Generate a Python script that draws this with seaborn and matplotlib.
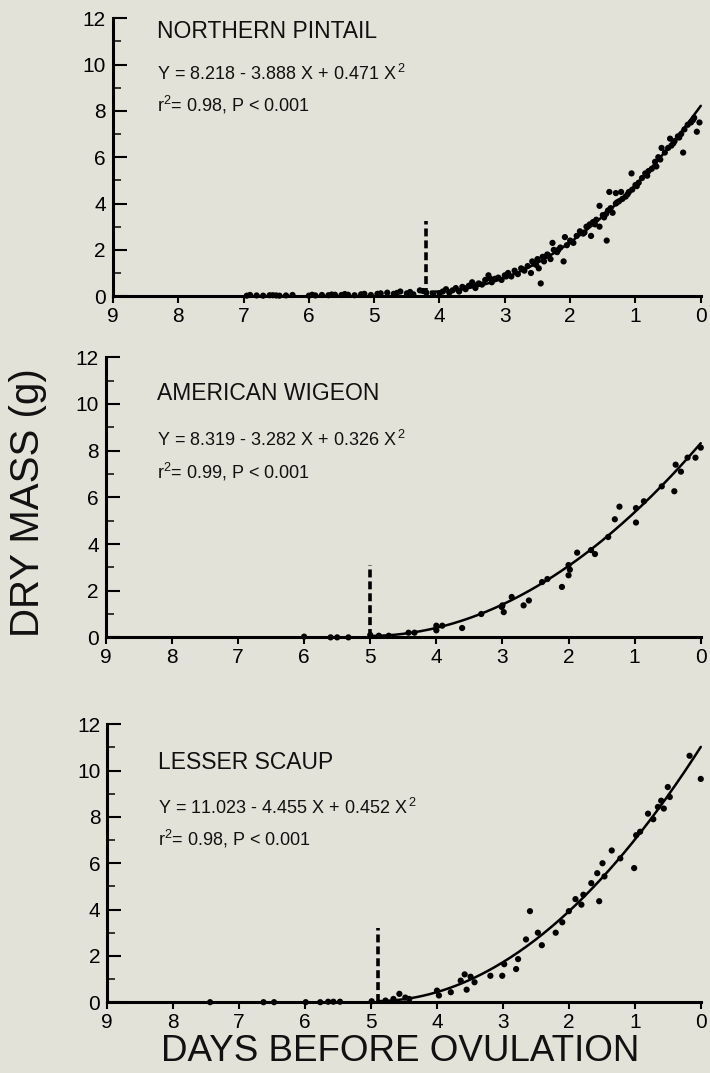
import numpy as np
import pandas as pd
import matplotlib
matplotlib.use("Agg")
import matplotlib.pyplot as plt
from matplotlib.ticker import MultipleLocator
import seaborn as sns

# ---------------- data ----------------
species = ["NORTHERN PINTAIL", "AMERICAN WIGEON", "LESSER SCAUP"]
equations = [
    r"Y = 8.218 - 3.888 X + 0.471 X$^{\,2}$",
    r"Y = 8.319 - 3.282 X + 0.326 X$^{\,2}$",
    r"Y = 11.023 - 4.455 X + 0.452 X$^{\,2}$",
]
stats_text = [
    r"r$^{2}$= 0.98, P < 0.001",
    r"r$^{2}$= 0.99, P < 0.001",
    r"r$^{2}$= 0.98, P < 0.001",
]
coef_pintail = [8.218, -3.888, 0.471]
coef_wigeon = [8.319, -3.282, 0.326]
coef_scaup = [11.023, -4.455, 0.452]
fit_start = [4.13, 5.0, 4.9]      # x where fitted curve begins
dash_x = [4.2, 5.0, 4.9]          # dashed marker positions
dash_top = [3.25, 3.1, 3.2]

pintail_x = [6.95, 6.8, 6.7, 6.6, 6.5, 6.45, 6.35, 6.0, 5.9, 5.8, 5.7, 5.6, 5.5, 5.4, 5.3,
             5.2, 5.05, 4.95, 4.8, 4.7, 4.6, 4.5, 4.4, 4.3, 4.2,
             4.1, 4.0, 3.95, 3.9, 3.85, 3.8, 3.75, 3.7, 3.65, 3.6, 3.55, 3.5, 3.45, 3.4, 3.35,
             3.3, 3.25, 3.2, 3.15, 3.1, 3.05, 3.0, 2.95, 2.9, 2.85, 2.8, 2.75, 2.7, 2.65, 2.6,
             2.58, 2.55, 2.5, 2.48, 2.45, 2.42, 2.4, 2.35, 2.3, 2.27, 2.25, 2.2, 2.15, 2.1, 2.08,
             2.05, 2.0, 1.95, 1.9, 1.85, 1.8, 1.75, 1.7, 1.68, 1.65, 1.6, 1.55, 1.55, 1.5, 1.48,
             1.44, 1.42, 1.4, 1.38, 1.35, 1.3, 1.3, 1.25, 1.22, 1.2, 1.15, 1.1, 1.06, 1.05, 1.0,
             0.95, 0.9, 0.85, 0.8, 0.75, 0.7, 0.68, 0.65, 0.6, 0.55, 0.5, 0.47, 0.45, 0.4, 0.35,
             0.3, 0.27, 0.25, 0.2, 0.15, 0.1, 0.06, 0.02,
             3.62, 3.48, 3.22, 2.98, 2.72, 2.52, 2.33, 2.18, 1.98, 1.78, 1.62, 1.45, 1.28, 1.12,
             0.98, 0.82, 0.62, 0.42, 0.33, 0.12,
             6.9, 6.55, 6.25, 5.95, 5.65, 5.45, 5.15, 4.9, 4.65, 4.45, 4.25]
pintail_y = [0.02, 0.03, 0.02, 0.04, 0.03, 0.02, 0.03, 0.02, 0.03, 0.05, 0.04, 0.06, 0.05, 0.06, 0.04,
             0.08, 0.05, 0.10, 0.15, 0.10, 0.20, 0.12, 0.08, 0.25, 0.15,
             0.10, 0.12, 0.20, 0.30, 0.15, 0.25, 0.35, 0.20, 0.40, 0.30, 0.45, 0.60, 0.35, 0.55, 0.50,
             0.70, 0.90, 0.60, 0.75, 0.80, 0.70, 0.90, 1.00, 0.85, 1.10, 0.95, 1.20, 1.10, 1.30, 1.00,
             1.50, 1.40, 1.60, 1.20, 0.55, 1.70, 1.50, 1.80, 1.60, 2.30, 2.00, 1.90, 2.10, 1.50, 2.55,
             2.20, 2.40, 2.30, 2.60, 2.80, 2.70, 3.00, 3.10, 2.60, 3.20, 3.30, 3.90, 3.00, 3.50, 3.40,
             2.40, 3.70, 4.50, 3.80, 3.60, 4.45, 4.00, 4.10, 4.50, 4.20, 4.30, 4.50, 5.30, 4.60, 4.80,
             4.90, 5.10, 5.30, 5.40, 5.50, 5.80, 5.60, 6.00, 6.40, 6.20, 6.40, 6.80, 6.50, 6.70, 6.90,
             7.00, 6.20, 7.20, 7.40, 7.50, 7.70, 7.10, 7.50,
             0.35, 0.50, 0.75, 0.85, 1.15, 1.35, 1.75, 2.00, 2.35, 2.75, 3.10, 3.55, 4.05, 4.40,
             4.75, 5.20, 5.90, 6.60, 6.85, 7.60,
             0.05, 0.04, 0.05, 0.06, 0.07, 0.09, 0.10, 0.12, 0.14, 0.18, 0.22]

wigeon_x = [6.0, 5.6, 5.5, 5.33, 5.0, 4.87, 4.72, 4.42, 4.33, 4.0, 4.0, 3.91, 3.61, 3.32,
            3.0, 2.98, 3.01, 2.86, 2.68, 2.6, 2.4, 2.32, 2.1, 2.0, 2.0, 1.98, 1.87, 1.66, 1.6,
            1.4, 1.3, 1.23, 0.98, 0.98, 0.86, 0.59, 0.4, 0.38, 0.3, 0.2, 0.08, 0.0]
wigeon_y = [0.03, 0.0, 0.0, 0.0, 0.10, 0.07, 0.07, 0.20, 0.20, 0.50, 0.30, 0.50, 0.40, 1.00,
            1.37, 1.08, 1.30, 1.73, 1.37, 1.58, 2.37, 2.50, 2.16, 3.10, 2.66, 2.90, 3.63, 3.74, 3.57,
            4.30, 5.06, 5.60, 4.92, 5.54, 5.83, 6.47, 6.26, 7.40, 7.10, 7.70, 7.70, 8.13]

scaup_x = [7.44, 6.63, 6.47, 5.99, 5.77, 5.65, 5.57, 5.47, 4.99, 4.78, 4.66, 4.57, 4.48, 4.42,
           4.0, 3.97, 3.79, 3.64, 3.58, 3.55, 3.49, 3.43, 3.19, 3.01, 2.98, 2.8, 2.77, 2.65, 2.59,
           2.47, 2.41, 2.2, 2.0, 1.81, 1.78, 1.66, 1.57, 1.49, 1.46, 1.54, 1.22, 1.01, 0.98, 0.92,
           0.8, 0.65, 0.56, 0.5, 0.47, 0.17, 0.0, 2.1, 1.9, 1.35, 0.72, 0.6]
scaup_y = [0.0, 0.0, 0.0, 0.0, 0.0, 0.02, 0.02, 0.02, 0.04, 0.07, 0.14, 0.36, 0.20, 0.14,
           0.50, 0.29, 0.43, 0.93, 1.20, 0.54, 1.10, 0.86, 1.14, 1.14, 1.64, 1.43, 1.86, 2.71, 3.93,
           3.00, 2.46, 3.00, 3.93, 4.21, 4.64, 5.14, 5.57, 6.00, 5.43, 4.36, 6.21, 5.79, 7.21, 7.36,
           8.14, 8.43, 8.36, 9.29, 8.86, 10.64, 9.64, 3.45, 4.45, 6.55, 7.90, 8.70]

datasets = [
    (pintail_x, pintail_y, coef_pintail),
    (wigeon_x, wigeon_y, coef_wigeon),
    (scaup_x, scaup_y, coef_scaup),
]

# ---------------- style ----------------
BG = "#e3e2d8"
sns.set_theme(style="ticks")
plt.rcParams["font.family"] = ["Liberation Sans", "DejaVu Sans"]
plt.rcParams["mathtext.fontset"] = "custom"
plt.rcParams["mathtext.rm"] = "Liberation Sans"
plt.rcParams["mathtext.it"] = "Liberation Sans"
plt.rcParams["mathtext.default"] = "regular"

fig = plt.figure(figsize=(7.10, 10.73), dpi=100, facecolor=BG)

# axes positions [left, bottom, width, height] (figure fraction)
positions = [
    [0.159, 0.724, 0.828, 0.259],
    [0.149, 0.406, 0.838, 0.261],
    [0.151, 0.066, 0.836, 0.259],
]
text_y = [(0.953, 0.80, 0.687), (0.871, 0.704, 0.589), (0.863, 0.70, 0.586)]
text_x = [0.075, 0.086, 0.086]

for i, (pos, (xs, ys, coef)) in enumerate(zip(positions, datasets)):
    ax = fig.add_axes(pos)
    ax.set_facecolor(BG)
    df = pd.DataFrame({"days": xs, "mass": ys})
    sns.scatterplot(data=df, x="days", y="mass", ax=ax, color="black", s=20,
                    edgecolor="none", linewidth=0, clip_on=False, zorder=3)
    gx = np.linspace(fit_start[i], 0, 200)
    fit = pd.DataFrame({"days": gx, "mass": coef[0] + coef[1] * gx + coef[2] * gx ** 2})
    sns.lineplot(data=fit, x="days", y="mass", ax=ax, color="black", lw=1.8,
                 sort=False, estimator=None, clip_on=False, zorder=4)
    ax.plot([dash_x[i], dash_x[i]], [0, dash_top[i]], color="black", lw=2.6,
            ls=(0, (2.2, 1.1)), zorder=2)

    ax.set_xlim(9, 0)
    ax.set_ylim(0, 12)
    ax.set_xticks(range(9, -1, -1))
    ax.set_yticks(range(0, 13, 2))
    ax.yaxis.set_minor_locator(MultipleLocator(1))
    ax.tick_params(axis="y", which="major", direction="in", length=10, width=1.5,
                   labelsize=15, pad=5, colors="black")
    ax.tick_params(axis="y", which="minor", direction="in", length=6, width=1.3)
    ax.tick_params(axis="x", which="major", direction="out", length=5, width=1.5,
                   labelsize=15, pad=3, colors="black")
    for s in ["top", "right"]:
        ax.spines[s].set_visible(False)
    for s in ["left", "bottom"]:
        ax.spines[s].set_linewidth(2.2)
        ax.spines[s].set_color("black")
    ax.set_xlabel("")
    ax.set_ylabel("")

    ax.text(text_x[i], text_y[i][0], species[i], transform=ax.transAxes,
            fontsize=16.5, va="center", ha="left", color="#111111")
    ax.text(text_x[i], text_y[i][1], equations[i], transform=ax.transAxes,
            fontsize=13, va="center", ha="left", color="#111111")
    ax.text(text_x[i], text_y[i][2], stats_text[i], transform=ax.transAxes,
            fontsize=13, va="center", ha="left", color="#111111")

fig.text(0.040, 0.532, "DRY MASS (g)", rotation=90, ha="center", va="center",
         fontsize=29, color="#111111")
fig.text(0.563, 0.020, "DAYS BEFORE OVULATION", ha="center", va="center",
         fontsize=26.5, color="#111111")

fig.savefig("out.png", dpi=100, facecolor=BG)
